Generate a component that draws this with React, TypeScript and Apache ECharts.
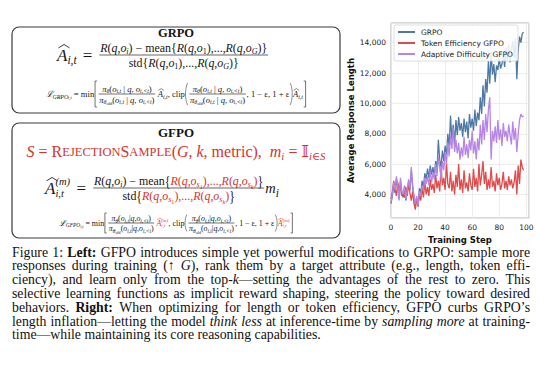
import React, { useEffect, useRef } from 'react';
import * as echarts from 'echarts';

// ---------------- data ----------------
const seriesNames = ['GRPO', 'Token Efficiency GFPO', 'Adaptive Difficulty GFPO'];
const seriesColors = ['#4e79a5', '#e04b4b', '#b785e6'];
const xTickValues = [0, 20, 40, 60, 80, 100];

const grpo = [
  3400, 3900, 4600, 4100, 5000, 4500, 3700, 4900, 4100, 3800,
  4500, 3600, 4200, 4800, 4300, 5600, 4500, 3800, 3300, 3800,
  3200, 4400, 4100, 4900, 4500, 5400, 5000, 5700, 5100, 5900,
  5300, 5800, 5200, 6200, 5600, 7600, 6300, 5800, 6900, 6200,
  7200, 6600, 8000, 7100, 9200, 7600, 8600, 7300, 8900, 7900,
  9100, 8200, 8700, 7800, 9000, 8100, 8800, 7700, 9300, 8400,
  9000, 8200, 9600, 8500, 9400, 8900, 10400, 9300, 11200, 9800,
  11600, 10700, 12800, 11300, 13400, 11900, 12600, 11400, 12500, 12200,
  13000, 12300, 12600, 13200, 12400, 13700, 12800, 13900, 12700, 13500,
  14100, 13000, 14300, 11600, 13500, 14400, 14000, 14600, 14700,
];

const tokenEfficiency = [
  3700, 4200, 4900, 4400, 3900, 4800, 4300, 4600, 3900, 4200,
  3800, 4500, 3900, 4700, 4100, 3600, 4200, 3400, 3000, 3700,
  3300, 4000, 3600, 4400, 3800, 4800, 4000, 4500, 3900, 5000,
  4300, 4700, 4100, 5300, 4400, 4900, 4200, 5800, 4600, 5100,
  4300, 6100, 4700, 4400, 5500, 4200, 4900, 4000, 5300, 4500,
  6000, 4300, 5000, 4100, 5600, 4400, 4800, 4200, 5400, 4600,
  4300, 5700, 4500, 5100, 4200, 6000, 4600, 5300, 6200, 4700,
  5500, 4300, 5000, 4400, 5800, 4500, 4900, 4200, 5400, 4600,
  5100, 4300, 4700, 5500, 4400, 4900, 4300, 5200, 4600, 5000,
  4400, 4800, 5600, 4000, 5900, 4700, 6300, 5800, 5600,
];

const adaptiveDifficulty = [
  3500, 4000, 4800, 4300, 5200, 4600, 3600, 5100, 4200, 4000,
  4600, 3700, 4300, 5000, 4400, 5800, 4600, 3900, 3400, 3900,
  3300, 4200, 3900, 4600, 4300, 5100, 4700, 5200, 4600, 5600,
  4800, 5400, 5000, 6000, 5200, 6500, 5800, 5000, 6200, 5600,
  6800, 6000, 7400, 6500, 7900, 7000, 8400, 6800, 7600, 6700,
  7400, 6300, 7100, 6500, 7800, 6600, 7300, 6400, 7600, 6900,
  8200, 6700, 7500, 6300, 7700, 6900, 8600, 7300, 8900, 7600,
  9300, 8100, 9600, 10400, 6300, 8200, 7500, 8500, 7400, 8900,
  7600, 8300, 7200, 8700, 7800, 8200, 7500, 8600, 7900, 7300,
  8800, 7600, 8400, 6800, 8000, 8900, 9300, 9100, 9200,
];

const xAxisTitle = 'Training Step';
const yAxisTitle = 'Average Response Length';

const captionLines = [
  'Figure 1: **Left:** GFPO introduces simple yet powerful modifications to GRPO: sample more',
  'responses during training (↑ *G*), rank them by a target attribute (e.g., length, token effi-',
  'ciency), and learn only from the top-*k*—setting the advantages of the rest to zero. This',
  'selective learning functions as implicit reward shaping, steering the policy toward desired',
  'behaviors. **Right:** When optimizing for length or token efficiency, GFPO curbs GRPO’s',
  'length inflation—letting the model *think less* at inference-time by *sampling more* at training-',
  'time—while maintaining its core reasoning capabilities.',
];

// ---------------- helpers ----------------
const SERIF = '"Liberation Serif", "DejaVu Serif", serif';
const SANS = '"DejaVu Sans", sans-serif';
const INK = '#151515';
const RED = '#d8332b';

let ctx: any = null;
function mw(text: string, font: string) {
  if (!ctx) ctx = document.createElement('canvas').getContext('2d');
  ctx.font = font;
  return ctx.measureText(text).width;
}
function fontOf(size: number, italic = false, bold = false, family = SERIF) {
  return `${italic ? 'italic ' : ''}${bold ? 'bold ' : ''}${size.toFixed(2)}px ${family}`;
}
function txt(x: number, y: number, text: string, font: string, fill: string, align = 'left', extra: any = {}) {
  return {
    type: 'text', x, y, silent: true, ...extra,
    style: { text, font, fill, textAlign: align, align, textVerticalAlign: 'middle', verticalAlign: 'middle' },
  };
}
function poly(points: number[][], lw: number, color = INK) {
  return { type: 'polyline', silent: true, shape: { points }, style: { stroke: color, lineWidth: lw, fill: 'none' } };
}

// kind: [sizeFactor, italic, bold, dy]
const KIND: Record<string, [number, boolean, boolean, number]> = {
  r: [1, false, false, 0],
  i: [1, true, false, 0],
  b: [1, false, true, 0],
  sc: [0.78, false, false, 0.07],
  si: [0.68, true, false, 0.3],
  sr: [0.68, false, false, 0.3],
  ssi: [0.52, true, false, 0.46],
  ssr: [0.52, false, false, 0.46],
};

function pw(p: any, base: number): number {
  if (p.sp != null) return p.sp * base;
  if (p.f) {
    const b = base * (p.fs || 1);
    return Math.max(rw(p.f[0], b), rw(p.f[1], b)) + b * 0.35;
  }
  if (p.br) return base * 0.42;
  if (p.ss) {
    const fnt = fontOf(base * 0.62, true);
    return Math.max(mw(p.ss[0], fnt), mw(p.ss[1], fnt)) + 0.5;
  }
  const [s, it, bd] = KIND[p.k || 'r'];
  return mw(p.t, fontOf(base * s * (p.s || 1), it, bd));
}
function rw(items: any[], base: number) {
  return items.reduce((a, p) => a + pw(p, base), 0);
}
function emitRow(items: any[], x: number, y: number, base: number, out: any[], align = 'left') {
  const W = rw(items, base);
  let cx = align === 'center' ? x - W / 2 : x;
  for (const p of items) {
    const w = pw(p, base);
    const col = p.c || INK;
    if (p.f) {
      const b = base * (p.fs || 1);
      const mid = cx + w / 2;
      emitRow(p.f[0], mid, y - b * 0.6, b, out, 'center');
      emitRow(p.f[1], mid, y + b * 0.68, b, out, 'center');
      out.push({
        type: 'line', silent: true,
        shape: { x1: cx + b * 0.1, y1: y, x2: cx + w - b * 0.1, y2: y },
        style: { stroke: INK, lineWidth: Math.max(0.6, b * 0.055) },
      });
    } else if (p.br) {
      const h = p.h;
      const x0 = cx + base * 0.1;
      const x1 = cx + base * 0.32;
      const lw = Math.max(0.6, base * 0.07);
      if (p.br === '[') out.push(poly([[x1, y - h / 2], [x0, y - h / 2], [x0, y + h / 2], [x1, y + h / 2]], lw));
      else if (p.br === ']') out.push(poly([[x0, y - h / 2], [x1, y - h / 2], [x1, y + h / 2], [x0, y + h / 2]], lw));
      else {
        const left = p.br === '(';
        const xa = left ? x1 : x0;
        const xb = left ? x0 - base * 0.1 : x1 + base * 0.1;
        out.push({
          type: 'bezierCurve', silent: true,
          shape: { x1: xa, y1: y - h / 2, x2: xa, y2: y + h / 2, cpx1: xb, cpy1: y - h / 4, cpx2: xb, cpy2: y + h / 4 },
          style: { stroke: INK, lineWidth: lw * 0.8, fill: 'none' },
        });
      }
    } else if (p.ss) {
      const fnt = fontOf(base * 0.62, true);
      out.push(txt(cx, y - base * 0.36, p.ss[0], fnt, col));
      out.push(txt(cx, y + base * 0.34, p.ss[1], fnt, col));
    } else if (p.t) {
      const [s, it, bd, dy] = KIND[p.k || 'r'];
      const size = base * s * (p.s || 1);
      out.push(txt(cx, y + dy * base, p.t, fontOf(size, it, bd), col, 'left', p.sy ? { scaleY: p.sy } : {}));
      if (p.hat) {
        out.push(poly([[cx + w * 0.14, y - size * 0.42], [cx + w * 0.68, y - size * 0.62], [cx + w * 1.2, y - size * 0.42]],
          Math.max(0.5, size * 0.05), col));
      }
    }
    cx += w;
  }
  return W;
}

const I = (t: string, c?: string) => ({ t, k: 'i', c });
const Rm = (t: string, c?: string) => ({ t, k: 'r', c });
const SI = (t: string, c?: string) => ({ t, k: 'si', c });
const SSI = (t: string, c?: string) => ({ t, k: 'ssi', c });
const SSR = (t: string, c?: string) => ({ t, k: 'ssr', c });
const SC = (t: string, c?: string) => ({ t, k: 'sc', c });

function rq(sub: string, kind = 'si', c?: string) {
  return [I('R', c), Rm('(', c), I('q', c), Rm(',', c), I('o', c), { t: sub, k: kind, c }, Rm(')', c)];
}
function rqs(sub: string, subKind: string, c?: string) {
  return [I('R', c), Rm('(', c), I('q', c), Rm(',', c), I('o', c), SI('s', c), { t: sub, k: subKind, c }, Rm(')', c)];
}

function buildMath(out: any[]) {
  // boxes
  out.push({ type: 'rect', silent: true, shape: { x: 12, y: 27, width: 328, height: 86, r: 7 }, style: { fill: 'none', stroke: '#3a3a3a', lineWidth: 1.2 } });
  out.push({ type: 'rect', silent: true, shape: { x: 12, y: 123, width: 328, height: 115, r: 7 }, style: { fill: 'none', stroke: '#3a3a3a', lineWidth: 1.2 } });

  // GRPO box
  out.push(txt(176, 32.5, 'GRPO', fontOf(12.5, false, true), INK, 'center'));
  const num1 = [...rq('i'), Rm(' − mean{'), ...rq('1', 'sr'), Rm(',...,'), ...rq('G'), Rm('}')];
  const den1 = [Rm('std{'), ...rq('1', 'sr'), Rm(',...,'), ...rq('G'), Rm('}')];
  const eq1 = [{ t: 'A', k: 'i', hat: true }, SI('i,t'), { sp: 0.35 }, Rm('='), { sp: 0.35 }, { f: [num1, den1], fs: 0.7 }];
  emitRow(eq1, 57, 55, 17, out);

  const pcond = [Rm('('), I('o'), SI('i,t'), Rm(' | '), I('q'), Rm(', '), I('o'), SI('i,<t'), Rm(')')];
  const pnum = [I('π'), SI('θ'), ...pcond];
  const pden = [I('π'), SI('θ'), SSR('old'), ...pcond];
  const L1 = [
    I('ℒ'), SI('GRPO'), SSI('i,t'), Rm(' = min'), { br: '[', h: 26 }, { f: [pnum, pden] }, { sp: 0.2 },
    { t: 'A', k: 'i', hat: true }, SI('i,t'), Rm(', clip'), { br: '(', h: 22 }, { f: [pnum, pden] },
    Rm(', 1 − ε, 1 + ε'), { br: ')', h: 22 }, { t: 'A', k: 'i', hat: true }, SI('i,t'), { br: ']', h: 26 },
  ];
  emitRow(L1, 176, 94, 8.6, out, 'center');

  // GFPO box
  out.push(txt(176, 132, 'GFPO', fontOf(13, false, true), INK, 'center'));
  const R1 = [
    I('S', RED), Rm(' = ', RED), Rm('R', RED), SC('EJECTION', RED), Rm('S', RED), SC('AMPLE', RED), Rm('(', RED),
    I('G', RED), Rm(', ', RED), I('k', RED), Rm(', metric),  ', RED), I('m', RED), SI('i', RED), Rm(' = ', RED),
    Rm('𝕀', RED), SI('i∈S', RED),
  ];
  emitRow(R1, 176, 151, 16, out, 'center');

  const num2 = [...rq('i'), Rm(' − mean'), { t: '{', k: 'r', sy: 1.3 }, ...rqs('1', 'ssr', RED), Rm(',...,', RED), ...rqs('k', 'ssi', RED), { t: '}', k: 'r', sy: 1.3 }];
  const den2 = [Rm('std'), { t: '{', k: 'r', sy: 1.3 }, ...rqs('1', 'ssr', RED), Rm(',...,', RED), ...rqs('k', 'ssi', RED), { t: '}', k: 'r', sy: 1.3 }];
  const eq2 = [{ t: 'A', k: 'i', hat: true }, { ss: ['(m)', 'i,t'] }, { sp: 0.35 }, Rm('='), { sp: 0.35 }, { f: [num2, den2], fs: 0.7 }, { t: 'm', k: 'i', s: 0.85 }, SI('i')];
  emitRow(eq2, 45, 188, 17, out);

  const qcond = [Rm('('), I('o'), SI('i,t'), Rm('|'), I('q'), Rm(','), I('o'), SI('i,<t'), Rm(')')];
  const qnum = [I('π'), SI('θ'), ...qcond];
  const qden = [I('π'), SI('θ'), SSR('old'), ...qcond];
  const L2 = [
    I('ℒ'), SI('GFPO'), SSI('i,t'), Rm(' = min'), { br: '[', h: 20 }, { f: [qnum, qden] }, { sp: 0.2 },
    { t: 'A', k: 'i', hat: true, c: RED }, { ss: ['(m)', 'i,t'], c: RED }, Rm(', clip'), { br: '(', h: 17 }, { f: [qnum, qden] },
    Rm(', 1 − ε, 1 + ε'), { br: ')', h: 17 }, { t: 'A', k: 'i', hat: true, c: RED }, { ss: ['(m)', 'i,t'], c: RED }, { br: ']', h: 20 },
  ];
  emitRow(L2, 176, 223, 7.9, out, 'center');
}

function parseLine(s: string) {
  const segs: any[] = [];
  const re = /\*\*([^*]+)\*\*|\*([^*]+)\*/g;
  let last = 0;
  let m: any;
  while ((m = re.exec(s))) {
    if (m.index > last) segs.push({ t: s.slice(last, m.index), st: 'n' });
    if (m[1]) segs.push({ t: m[1], st: 'b' });
    else segs.push({ t: m[2], st: 'i' });
    last = re.lastIndex;
  }
  if (last < s.length) segs.push({ t: s.slice(last), st: 'n' });
  const words: any[][] = [[]];
  for (const sg of segs) {
    const parts = sg.t.split(' ');
    parts.forEach((p: string, idx: number) => {
      if (idx > 0) words.push([]);
      if (p) words[words.length - 1].push({ t: p, st: sg.st });
    });
  }
  return words.filter((w) => w.length);
}

function buildCaption(out: any[]) {
  const X0 = 12;
  const X1 = 530;
  const Y0 = 252;
  const DY = 13.8;
  captionLines.forEach((line, li) => {
    const words = parseLine(line);
    let size = 13.8;
    const fnt = (st: string) => fontOf(size, st === 'i', st === 'b');
    const measureAll = () => words.map((w) => w.reduce((a: number, p: any) => a + mw(p.t, fnt(p.st)), 0));
    let widths = measureAll();
    let total = widths.reduce((a, b) => a + b, 0);
    const minGap = size * 0.2;
    if (total + minGap * (words.length - 1) > X1 - X0) {
      size = size * (X1 - X0 - minGap * (words.length - 1)) / total;
      widths = measureAll();
      total = widths.reduce((a, b) => a + b, 0);
    }
    const justify = li < captionLines.length - 1;
    const gap = justify ? (X1 - X0 - total) / (words.length - 1) : mw(' ', fnt('n'));
    let x = X0;
    const y = Y0 + li * DY;
    words.forEach((w, wi) => {
      let px = x;
      for (const p of w) {
        out.push(txt(px, y, p.t, fnt(p.st), '#111'));
        px += mw(p.t, fnt(p.st));
      }
      x += widths[wi] + gap;
    });
  });
}

function buildOption() {
  const graphics: any[] = [];
  buildMath(graphics);
  buildCaption(graphics);
  const all = [grpo, tokenEfficiency, adaptiveDifficulty];
  return {
    animation: false,
    backgroundColor: '#ffffff',
    graphic: { elements: graphics },
    grid: {
      left: 391, top: 23, width: 138, height: 195,
      show: true, borderColor: '#b5b5b5', borderWidth: 1, backgroundColor: 'transparent',
    },
    legend: {
      left: 394, top: 25, orient: 'vertical', icon: 'rect', itemWidth: 17, itemHeight: 2, itemGap: 3,
      padding: [3, 5, 3, 4], borderColor: '#d6d6d6', borderWidth: 0.8, borderRadius: 2,
      backgroundColor: 'rgba(255,255,255,0.85)',
      textStyle: { fontSize: 7.5, fontFamily: SANS, color: '#222', padding: [0, 0, 0, 1] },
      data: seriesNames,
    },
    xAxis: {
      type: 'value', min: 0, max: 102, interval: 20,
      axisLine: { show: false }, axisTick: { show: false },
      axisLabel: { fontSize: 7.5, fontFamily: SANS, color: '#222', margin: 5, customValues: xTickValues },
      splitLine: { lineStyle: { color: '#e8e8e8', width: 0.8 } },
      name: xAxisTitle, nameLocation: 'middle', nameGap: 17,
      nameTextStyle: { fontWeight: 'bold', fontSize: 8.5, fontFamily: SANS, color: '#111' },
    },
    yAxis: {
      type: 'value', min: 2450, max: 15300, splitNumber: 6,
      axisLine: { show: false }, axisTick: { show: false },
      axisLabel: { fontSize: 7.5, fontFamily: SANS, color: '#222', margin: 5, showMinLabel: false, showMaxLabel: false },
      splitLine: { lineStyle: { color: '#e8e8e8', width: 0.8 } },
      name: yAxisTitle, nameLocation: 'middle', nameGap: 31, nameRotate: 90,
      nameTextStyle: { fontWeight: 'bold', fontSize: 8.5, fontFamily: SANS, color: '#111' },
    },
    series: all.map((arr, si) => ({
      name: seriesNames[si], type: 'line', silent: true, symbol: 'none', showSymbol: false,
      data: arr.map((v, i) => [i, v]),
      lineStyle: { width: 1.3, color: seriesColors[si] },
      itemStyle: { color: seriesColors[si] },
    })),
  };
}

export default function App() {
  const ref = useRef<HTMLDivElement>(null);
  useEffect(() => {
    const chart = echarts.init(ref.current as HTMLDivElement, null, { renderer: 'svg', width: 540, height: 372 });
    chart.setOption(buildOption() as any);
    return () => chart.dispose();
  }, []);
  return <div ref={ref} style={{ position: 'fixed', left: 0, top: 0, width: 540, height: 372, background: '#fff' }} />;
}
